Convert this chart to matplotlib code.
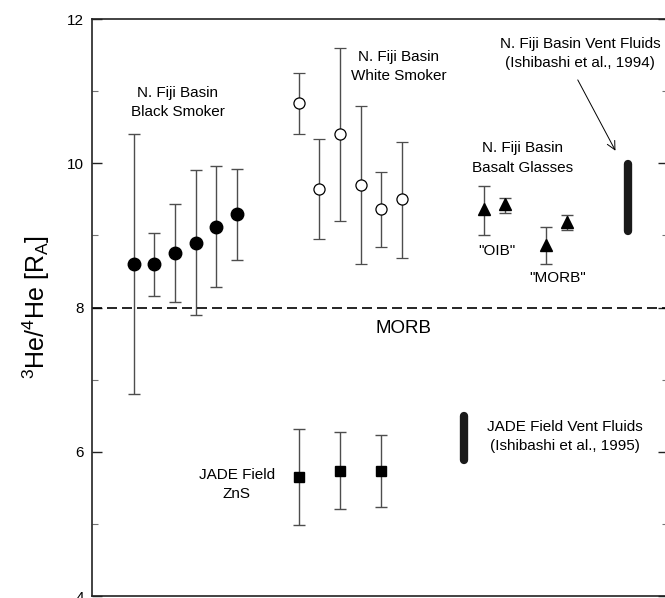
import matplotlib
matplotlib.use('Agg')
import matplotlib.pyplot as plt
from matplotlib.ticker import MultipleLocator

plt.rcParams['font.family'] = ['Liberation Sans', 'DejaVu Sans']
plt.rcParams['mathtext.fontset'] = 'custom'
plt.rcParams['mathtext.rm'] = 'Liberation Sans'
plt.rcParams['mathtext.it'] = 'Liberation Sans:italic'

# N. Fiji Basin black smoker (filled circles)
black_x = [7.2, 10.8, 14.4, 18.0, 21.5, 25.1]
black_y = [8.60, 8.60, 8.75, 8.90, 9.12, 9.30]
black_lo = [6.80, 8.16, 8.07, 7.90, 8.28, 8.66]
black_hi = [10.40, 9.04, 9.43, 9.90, 9.96, 9.92]

# N. Fiji Basin white smoker (open circles)
white_x = [35.9, 39.4, 43.0, 46.6, 50.2, 53.8]
white_y = [10.83, 9.65, 10.41, 9.70, 9.37, 9.50]
white_lo = [10.40, 8.95, 9.20, 8.60, 8.84, 8.69]
white_hi = [11.25, 10.34, 11.60, 10.80, 9.88, 10.29]

# N. Fiji Basin basalt glasses (triangles)
glass_x = [68.1, 71.7, 78.8, 82.4]
glass_y = [9.36, 9.43, 8.87, 9.18]
glass_lo = [9.01, 9.31, 8.60, 9.08]
glass_hi = [9.69, 9.52, 9.12, 9.28]

# JADE field ZnS (squares)
zns_x = [35.9, 43.0, 50.2]
zns_y = [5.65, 5.74, 5.73]
zns_lo = [4.98, 5.20, 5.23]
zns_hi = [6.32, 6.28, 6.23]

# vent fluid ranges
fiji_vent_x = 93.1
fiji_vent_range = [9.06, 9.99]
jade_vent_x = 64.5
jade_vent_range = [5.89, 6.50]

morb_value = 8.0


def err(y, lo, hi):
    return [[v - l for v, l in zip(y, lo)], [h - v for v, h in zip(y, hi)]]


fig = plt.figure(figsize=(6.65, 5.98), dpi=100)
ax = fig.add_axes([0.1388, 0.0033, 0.8657, 0.9649])

ekw = dict(ecolor='0.3', elinewidth=1.0, capsize=4.5, capthick=1.0,
           linestyle='none')
ax.errorbar(black_x, black_y, yerr=err(black_y, black_lo, black_hi),
            marker='o', ms=9, mfc='black', mec='black', **ekw)
ax.errorbar(white_x, white_y, yerr=err(white_y, white_lo, white_hi),
            marker='o', ms=8, mfc='white', mec='black', mew=0.9, **ekw)
ax.errorbar(glass_x, glass_y, yerr=err(glass_y, glass_lo, glass_hi),
            marker='^', ms=8, mfc='black', mec='black', **ekw)
ax.errorbar(zns_x, zns_y, yerr=err(zns_y, zns_lo, zns_hi),
            marker='s', ms=7.5, mfc='black', mec='black', **ekw)

ax.plot([fiji_vent_x, fiji_vent_x], fiji_vent_range, color='#1a1a1a',
        lw=6, solid_capstyle='round')
ax.plot([jade_vent_x, jade_vent_x], jade_vent_range, color='#1a1a1a',
        lw=6, solid_capstyle='round')

ax.axhline(morb_value, color='black', lw=1.2, dashes=(6, 3))

fs = 11
ax.text(14.8, 10.84, 'N. Fiji Basin\nBlack Smoker', ha='center', va='center',
        fontsize=fs, linespacing=1.5)
ax.text(53.2, 11.345, 'N. Fiji Basin\nWhite Smoker', ha='center', va='center',
        fontsize=fs, linespacing=1.5)
ax.text(84.7, 11.52, 'N. Fiji Basin Vent Fluids\n(Ishibashi et al., 1994)',
        ha='center', va='center', fontsize=fs, linespacing=1.5)
ax.text(74.8, 10.075, 'N. Fiji Basin\nBasalt Glasses', ha='center',
        va='center', fontsize=fs, linespacing=1.5)
ax.text(70.3, 8.78, '"OIB"', ha='center', va='center', fontsize=fs)
ax.text(80.9, 8.41, '"MORB"', ha='center', va='center', fontsize=fs)
ax.text(54.1, 7.71, 'MORB', ha='center', va='center', fontsize=13.5)
ax.text(25.1, 5.545, 'JADE Field\nZnS', ha='center', va='center',
        fontsize=fs, linespacing=1.5)
ax.text(82.1, 6.21, 'JADE Field Vent Fluids\n(Ishibashi et al., 1995)',
        ha='center', va='center', fontsize=fs, linespacing=1.5)

ax.annotate('', xy=(91.1, 10.14), xytext=(84.1, 11.19),
            arrowprops=dict(arrowstyle='->', color='black', lw=0.7,
                            mutation_scale=15))

ax.set_xlim(0, 100)
ax.set_ylim(4, 12)
ax.set_xticks([])
ax.yaxis.set_major_locator(MultipleLocator(2))
ax.yaxis.set_minor_locator(MultipleLocator(1))
ax.tick_params(axis='y', which='both', direction='in', left=True, right=True,
               labelsize=11, pad=6, color='#222222')
ax.tick_params(axis='y', which='major', length=7.5, width=1.0)
ax.tick_params(axis='y', which='minor', length=4.5, width=0.8, color='0.45')
for s in ax.spines.values():
    s.set_linewidth(1.2)
    s.set_color('#222222')

ax.set_ylabel(r'$^{3}$He/$^{4}$He [R$_{\mathrm{A}}$]', fontsize=18, labelpad=11)

fig.savefig('out.png', dpi=100)
